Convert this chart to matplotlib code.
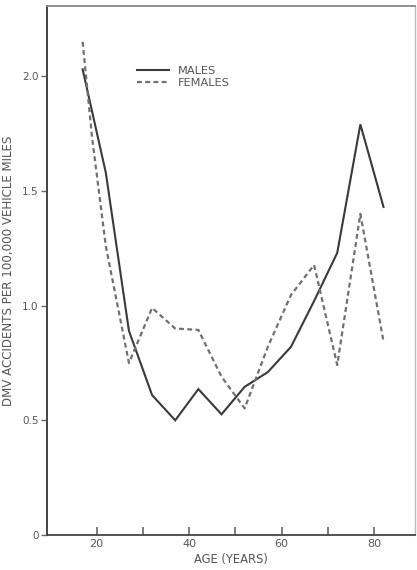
import matplotlib
matplotlib.use("Agg")
import matplotlib.pyplot as plt

# Data
male_ages = [17, 22, 27, 32, 37, 42, 47, 52, 57, 62, 67, 72, 77, 82]
male_rate = [2.03, 1.58, 0.89, 0.61, 0.50, 0.636, 0.526, 0.646, 0.71, 0.82, 1.02, 1.23, 1.79, 1.43]

female_ages = [17, 19, 22, 27, 32, 37, 42, 47, 52, 57, 62, 67, 72, 77, 82]
female_rate = [2.15, 1.74, 1.26, 0.75, 0.99, 0.90, 0.894, 0.69, 0.552, 0.82, 1.046, 1.177, 0.741, 1.40, 0.843]

x_ticks = [20, 30, 40, 50, 60, 70, 80]
x_labels = ["20", "", "40", "", "60", "", "80"]
y_ticks = [0, 0.5, 1.0, 1.5, 2.0]
y_labels = ["0", "0.5", "1.0", "1.5", "2.0"]

W, H = 417, 570
fig = plt.figure(figsize=(W / 100, H / 100), dpi=100)
left, right, top, bottom = 47, 415, 6, 535
ax = fig.add_axes([left / W, (H - bottom) / H, (right - left) / W, (bottom - top) / H])

txt = "#555555"
ax.plot(male_ages, male_rate, color="#3a3a3a", lw=1.5, solid_joinstyle="miter", label="MALES")
ax.plot(female_ages, female_rate, color="#707070", lw=1.6, linestyle=(0, (2.2, 1.5)), label="FEMALES")

ax.set_xlim(9.3, 88.8)
ax.set_ylim(0, 2.306)

ax.set_xticks(x_ticks)
ax.set_xticklabels(x_labels)
ax.set_yticks(y_ticks)
ax.set_yticklabels(y_labels)

ax.tick_params(axis="x", direction="in", length=6, width=1.2, colors="#666666",
               labelsize=8, labelcolor=txt, pad=3)
ax.tick_params(axis="y", direction="out", length=4, width=1, colors="#666666",
               labelsize=7.5, labelcolor=txt, pad=2)

ax.set_xlabel("AGE (YEARS)", fontsize=8.3, color=txt, labelpad=3)
ax.set_ylabel("DMV ACCIDENTS PER 100,000 VEHICLE MILES", fontsize=8.6, color=txt, labelpad=5)

ax.spines["left"].set_color("#444444")
ax.spines["left"].set_linewidth(1.4)
ax.spines["bottom"].set_color("#444444")
ax.spines["bottom"].set_linewidth(1.3)
ax.spines["top"].set_color("#888888")
ax.spines["top"].set_linewidth(1.3)
ax.spines["right"].set_color("#bbbbbb")
ax.spines["right"].set_linewidth(1.0)

leg = ax.legend(loc="upper left", bbox_to_anchor=(0.2446, 0.887), frameon=False,
                fontsize=8.2, handlelength=2.8, handletextpad=0.8, labelspacing=0.2,
                borderpad=0, borderaxespad=0)
for t in leg.get_texts():
    t.set_color(txt)

fig.savefig("out.png", dpi=100)
